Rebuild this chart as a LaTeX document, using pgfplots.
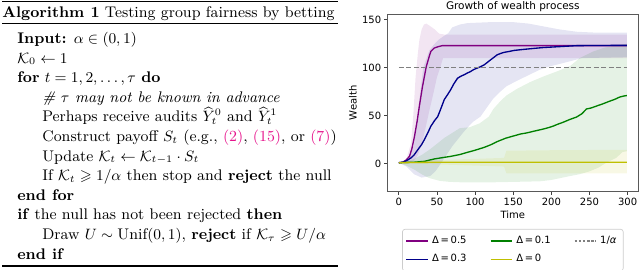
\documentclass[border=0pt]{standalone}
\usepackage{amsmath,amssymb}
\usepackage{fontspec}
\usepackage{pgfplots}
\pgfplotsset{compat=1.18}
\newfontfamily\dejavu{DejaVu Sans}
\definecolor{mpurple}{RGB}{128,0,128}
\definecolor{mblue}{RGB}{0,0,139}
\definecolor{mgreen}{RGB}{0,128,0}
\definecolor{myellow}{RGB}{191,191,0}
\definecolor{refpink}{RGB}{230,20,140}
\newcommand{\cf}{\dejavu\fontsize{6}{7}\selectfont}
\begin{document}
\begin{tikzpicture}
\begin{scope}[shift={(0pt,162pt)}, x=0.6pt, y=-0.6pt, every node/.style={anchor=base west, inner sep=0pt, font=\fontsize{9.25}{10}\selectfont}]
\draw[line width=0.8pt] (2,1.5) -- (338,1.5);
\draw[line width=0.45pt] (2,23.2) -- (338,23.2);
\draw[line width=0.8pt] (2,266) -- (338,266);
\node at (2,17.3) {\textbf{Algorithm 1} Testing group fairness by betting};
\node at (17,43.5) {\textbf{Input:} $\alpha \in (0,1)$};
\node at (17,63.1) {$\mathcal{K}_0 \leftarrow 1$};
\node at (17,82.7) {\textbf{for} $t = 1,2,\dots,\tau$ \textbf{do}};
\node at (42,102.3) {\textit{\# $\tau$ may not be known in advance}};
\node at (42,121.9) {Perhaps receive audits $\widehat{Y}_t^0$ and $\widehat{Y}_t^1$};
\node at (42,141.5) {Construct payoff $S_t$ (e.g., \textcolor{refpink}{(2)}, \textcolor{refpink}{(15)}, or \textcolor{refpink}{(7)})};
\node at (42,161.1) {Update $\mathcal{K}_t \leftarrow \mathcal{K}_{t-1} \cdot S_t$};
\node at (42,180.7) {If $\mathcal{K}_t \geqslant 1/\alpha$ then stop and \textbf{reject} the null};
\node at (17,200.3) {\textbf{end for}};
\node at (17,219.9) {\textbf{if} the null has not been rejected \textbf{then}};
\node at (42,239.5) {Draw $U \sim \mathrm{Unif}(0,1)$, \textbf{reject} if $\mathcal{K}_\tau \geqslant U/\alpha$};
\node at (17,259.1) {\textbf{end if}};
\end{scope}
\begin{axis}[
  at={(232.4pt,47.1pt)}, anchor=south west,
  scale only axis, width=150.6pt, height=106.5pt,
  xmin=-15, xmax=314, ymin=-29, ymax=156,
  xtick={0,50,100,150,200,250,300},
  ytick={0,50,100,150},
  tick align=outside, tick pos=left, major tick length=2pt,
  axis line style={black!65, line width=0.5pt},
  every tick/.style={black!75, line width=0.5pt},
  /pgf/number format/assume math mode=true,
  tick label style={font=\cf},
  xticklabel style={inner sep=1.5pt},
  yticklabel style={inner sep=1.5pt},
  title={Growth of wealth process},
  every axis title/.style={font=\dejavu\fontsize{6.3}{7}\selectfont, at={(axis description cs:0.5,1)}, anchor=base, yshift=2.8pt},
  xlabel={Time},
  every axis x label/.style={font=\cf, at={(axis description cs:0.5,0)}, anchor=base, yshift=-16.5pt},
  ylabel={Wealth},
  every axis y label/.style={font=\cf, at={(axis description cs:-0.137,0.5)}, anchor=center, rotate=90},
  legend columns=3,
  legend cell align=left,
  legend image code/.code={\draw[#1] (0pt,0pt) -- (13pt,0pt);},
  legend style={font=\cf, at={(0.5,0)}, anchor=north, yshift=-22.5pt,
    draw=black!20, rounded corners=1.5pt, inner sep=2pt,
    /tikz/every even column/.append style={column sep=12pt},
    row sep=1pt},
]
% bands
\addplot[draw=none, fill=mpurple, fill opacity=0.1, forget plot] coordinates {
(0,1) (5,1.5) (10,5) (16,21) (19,50) (22,90) (25,115) (27,129) (30,140) (33,145) (36,146) (40,144) (47,140) (53,135.5) (60,134.5) (299,134.5)
(299,110) (58,110) (55,102) (50,90) (45,72) (40,55) (35,37) (30,20) (25,9) (20,3) (15,1.5) (10,0.5) (5,0.8) (0,1)} -- cycle;
\addplot[draw=none, fill=mblue, fill opacity=0.1, forget plot] coordinates {
(0,1) (10,3) (15,8) (20,20) (26,60) (32,100) (40,118) (46,124) (52,129) (59,133) (65,136) (70,142) (80,145) (90,146.5) (120,147.5) (150,147.5) (170,146) (190,143) (210,140) (233,137.5) (260,136.5) (299,136.5)
(299,111) (240,110) (224,106.6) (198,101.4) (185,98) (172,93) (154,86) (141,80.6) (133,75) (124,68) (115,58) (107,49) (98,44) (94,41) (85,33) (70,18) (55,0) (48,-8) (41,-13) (30,-14.5) (20,-11) (10,-3) (0,1)} -- cycle;
\addplot[draw=none, fill=mgreen, fill opacity=0.1, forget plot] coordinates {
(0,1) (10,2) (20,5) (30,9) (41,15) (60,27) (80,37) (93,38) (106,42) (118,49) (124,57) (133,65) (141,71) (155,78) (172,85) (190,91) (210,97) (225,102) (237,110) (255,117) (270,121) (299,125)
(299,13) (293,12) (285,6) (272,1) (262,-4) (250,-8) (237,-11) (224,-13) (200,-17) (185,-18.4) (150,-19) (119,-19.5) (84,-19.5) (67,-19) (54,-18) (40,-15) (30,-11) (20,-6) (10,-2) (0,1)} -- cycle;
\addplot[draw=none, fill=myellow, fill opacity=0.1, forget plot] coordinates {
(0,1) (20,3) (60,4) (100,5) (138,6) (141,13.5) (200,14) (299,14.5)
(299,-10) (141,-10) (138,-3) (100,-2) (60,-1) (20,0) (0,1)} -- cycle;
% lines
\addplot[mpurple, line width=0.8pt, forget plot] coordinates {
(0,1) (5,1.5) (7,2.4) (10,4) (14,7.6) (17,15) (20.5,28) (24,44) (27,60) (31,80) (36,101) (40,112) (42,117) (46.5,120.5) (52,122) (57,123) (100,123) (150,123) (200,123) (250,123) (299,123)};
\addplot[mblue, line width=0.8pt, forget plot] coordinates {
(0,1) (5,1.5) (10,3) (16,6) (20,9) (25,14.6) (30,20) (33.5,25) (38,32) (42,39) (47,45) (51,49) (55,57) (59.6,66.7) (64,72) (68,77) (72,83) (77,89) (81,91) (85.7,92.7) (90,94.5) (94,96) (98,98) (103,99.7) (107,101) (112,103) (116,105.5) (120,108) (125,111) (129,113.5) (134,115) (138,116) (145,117) (151,118) (160,118.8) (167.5,119.4) (178,120.2) (189,121) (200,121.5) (211,122) (222,122.5) (233,123) (260,123.2) (299,123.3)};
\addplot[mgreen, line width=0.8pt, forget plot] coordinates {
(0,1) (10,1.3) (20,1.5) (33.5,2.4) (46.5,4.9) (55,6) (68,7.6) (80,9.5) (90,11.8) (100,14) (112,17) (120,19.5) (129,23) (140,26.5) (151,29) (160,31) (167.5,32) (178,34) (189,36) (196,37.5) (202,39) (208,41) (215,43) (224,46) (233,48.6) (240,52) (246,57) (252,58) (259,60) (268,62.5) (276,65) (283,67) (289.5,69.4) (295,70.5) (299,71)};
\addplot[myellow, line width=0.8pt, forget plot] coordinates {
(0,1) (50,1.5) (150,1.5) (299,1.5)};
\addplot[gray, line width=0.7pt, dash pattern=on 3pt off 1.5pt, forget plot] coordinates {(0,100) (299,100)};
% legend
\addlegendimage{mpurple, line width=0.8pt}
\addlegendentry{Δ\,=\,0.5}
\addlegendimage{mgreen, line width=0.8pt}
\addlegendentry{Δ\,=\,0.1}
\addlegendimage{gray, line width=0.7pt, dash pattern=on 1.5pt off 1pt}
\addlegendentry{1/\textit{α}}
\addlegendimage{mblue, line width=0.8pt}
\addlegendentry{Δ\,=\,0.3}
\addlegendimage{myellow, line width=0.8pt}
\addlegendentry{Δ\,=\,0}
\end{axis}
\pgfresetboundingbox
\path[use as bounding box] (0,0) rectangle (384pt,162pt);
\end{tikzpicture}
\end{document}
